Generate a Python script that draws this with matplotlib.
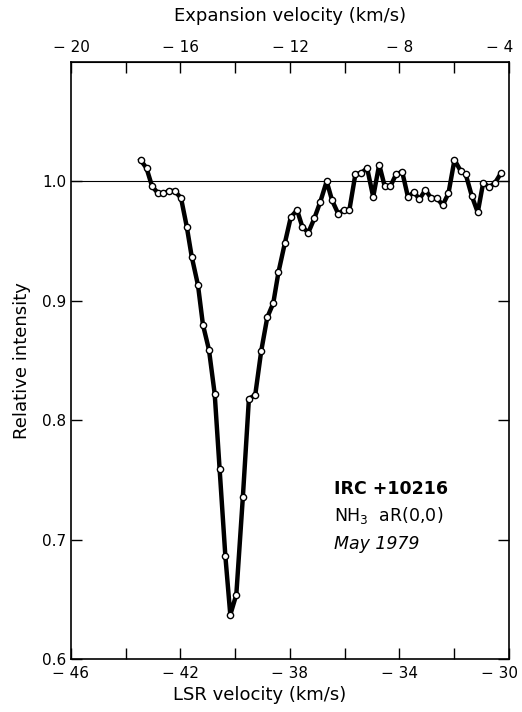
"""
NH3 aR(0,0) absorption profile toward IRC +10216 (May 1979)
"""

import matplotlib
matplotlib.use("Agg")
import matplotlib.pyplot as plt
import matplotlib.transforms as mtransforms
from matplotlib.ticker import MultipleLocator, FixedLocator, FuncFormatter

# data
lsr_velocity = [-43.46, -43.24, -43.04, -42.82, -42.64, -42.41, -42.21, -41.98, -41.77, -41.59,
                -41.36, -41.18, -40.96, -40.75, -40.57, -40.36, -40.18, -39.96, -39.72, -39.50,
                -39.27, -39.05, -38.83, -38.61, -38.42, -38.19, -37.97, -37.74, -37.55, -37.33,
                -37.11, -36.89, -36.66, -36.46, -36.24, -36.03, -35.83, -35.61, -35.40, -35.18,
                -34.96, -34.74, -34.54, -34.33, -34.12, -33.90, -33.69, -33.47, -33.27, -33.05,
                -32.85, -32.63, -32.42, -32.21, -31.99, -31.77, -31.58, -31.36, -31.14, -30.94,
                -30.72, -30.50, -30.29]
rel_intensity = [1.018, 1.011, 0.996, 0.990, 0.990, 0.992, 0.992, 0.986, 0.962, 0.937,
                 0.913, 0.880, 0.859, 0.822, 0.759, 0.686, 0.637, 0.654, 0.736, 0.818,
                 0.821, 0.858, 0.886, 0.898, 0.924, 0.948, 0.970, 0.976, 0.962, 0.957,
                 0.969, 0.983, 1.000, 0.984, 0.973, 0.976, 0.976, 1.006, 1.007, 1.011,
                 0.987, 1.014, 0.996, 0.996, 1.006, 1.008, 0.987, 0.991, 0.985, 0.993,
                 0.986, 0.986, 0.980, 0.990, 1.018, 1.009, 1.006, 0.988, 0.974, 0.999,
                 0.995, 0.999, 1.007]

lsr_ticks = [-46, -42, -38, -34, -30]
exp_ticks = [-20, -16, -12, -8, -4]
y_ticks = [0.6, 0.7, 0.8, 0.9, 1.0]
offset = 26  # expansion velocity = LSR velocity + 26

plt.rcParams['font.family'] = ['DejaVu Sans']

fig = plt.figure(figsize=(5.22, 7.12), dpi=100)
ax = fig.add_axes([0.136, 0.0744, 0.839, 0.8386])

ax.axhline(1.0, color='black', lw=0.8, zorder=1)
ax.plot(lsr_velocity, rel_intensity, color='black', lw=3.2, marker='o', ms=4.5,
        mfc='white', mec='black', mew=1.0, zorder=3)

ax.set_xlim(-46, -30)
ax.set_ylim(0.6, 1.1)

minus_fmt = FuncFormatter(lambda v, p: f"\u2212 {abs(v):.0f}")

ax.xaxis.set_major_locator(FixedLocator(lsr_ticks))
ax.xaxis.set_minor_locator(MultipleLocator(2))
ax.xaxis.set_major_formatter(minus_fmt)
ax.yaxis.set_major_locator(FixedLocator(y_ticks))
ax.yaxis.set_major_formatter(FuncFormatter(lambda v, p: f"{v:.1f}"))

ax.tick_params(axis='both', which='both', direction='in', length=8, width=1,
               labelsize=11, right=True)
ax.tick_params(axis='x', which='both', top=False, pad=5)
for s in ax.spines.values():
    s.set_linewidth(1.2)

ax.set_xlabel('LSR velocity (km/s)', fontsize=13)
ax.xaxis.set_label_coords(0.43, -0.045)
ax.set_ylabel('Relative intensity', fontsize=13, labelpad=8)

top = ax.secondary_xaxis('top', functions=(lambda x: x + offset, lambda x: x - offset))
top.xaxis.set_major_locator(FixedLocator(exp_ticks))
top.xaxis.set_minor_locator(MultipleLocator(2))
top.xaxis.set_major_formatter(minus_fmt)
top.tick_params(axis='x', which='both', direction='in', length=8, width=1,
                labelsize=11, pad=5)
top.set_xlabel('Expansion velocity (km/s)', fontsize=13, labelpad=14)

ax.text(-36.4, 0.738, 'IRC +10216', fontsize=12.5, fontweight='bold', va='baseline')
ax.text(-36.4, 0.716, r'NH$_3$  aR(0,0)', fontsize=12.5, va='baseline')
ax.text(-36.4, 0.692, 'May 1979', fontsize=12.5, style='italic', va='baseline')

# pull the right-most tick labels in a little so they stay inside the figure
fig.canvas.draw()
shift = mtransforms.ScaledTranslation(-9 / 100, 0, fig.dpi_scale_trans)
for lab in ax.xaxis.get_majorticklabels()[-1:] + top.xaxis.get_majorticklabels()[-1:]:
    lab.set_transform(lab.get_transform() + shift)

fig.savefig('out.png', dpi=100)
